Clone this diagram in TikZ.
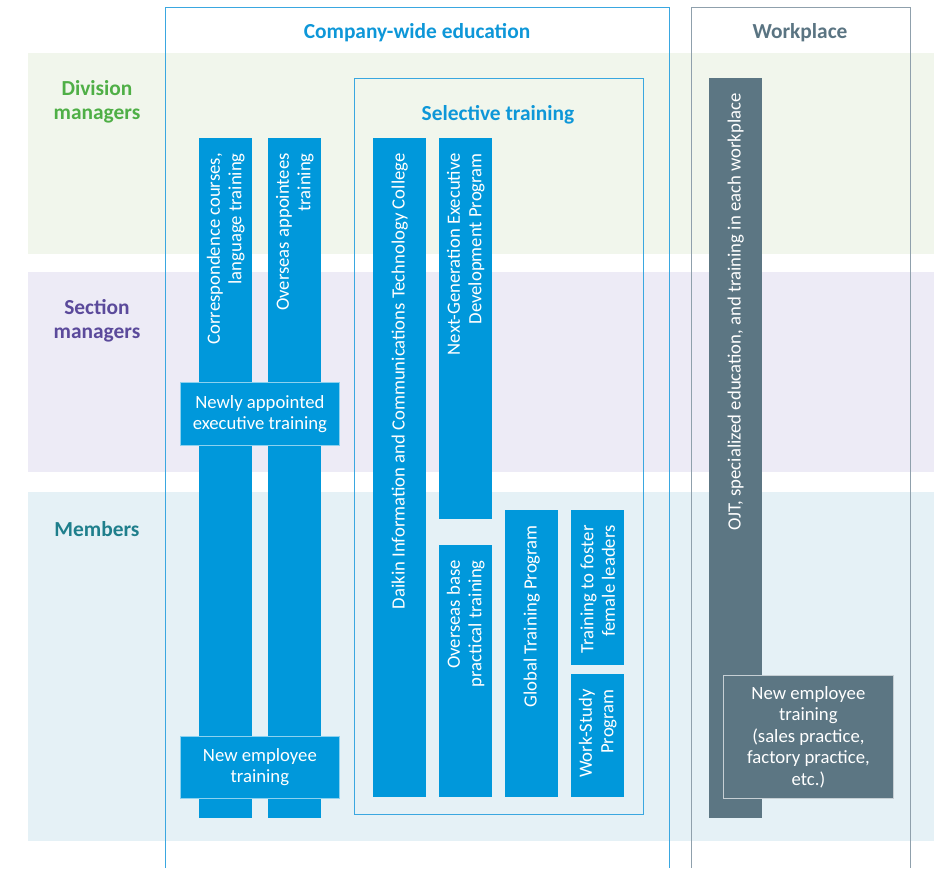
\documentclass[tikz,border=0pt]{standalone}
\usepackage{fontspec}
\setmainfont{Carlito}
\definecolor{barblue}{HTML}{0098DB}
\definecolor{cwframe}{HTML}{3AA7E0}
\definecolor{titleblue}{HTML}{0E97D8}
\definecolor{ojtgray}{HTML}{5C7683}
\definecolor{wpframe}{HTML}{8FA0AC}
\definecolor{wptitle}{HTML}{5A7482}
\definecolor{divgreen}{HTML}{4FAF46}
\definecolor{secpurple}{HTML}{5B4A9B}
\definecolor{memteal}{HTML}{1F7F8C}
\definecolor{bandgreen}{HTML}{F1F6EC}
\definecolor{bandpurple}{HTML}{EDEBF6}
\definecolor{bandblue}{HTML}{E5F1F6}
\tikzset{
  bar/.style={fill=#1, inner sep=0pt, anchor=north west, minimum width=53pt},
  bar/.default=barblue,
  vtext/.style={text=white, rotate=90, anchor=east, align=right, inner sep=0pt,
    font=\fontsize{18.7}{21.5}\selectfont},
  hbox/.style={fill=barblue, draw=white!55!barblue, line width=0.8pt, text=white,
    align=center, anchor=north west, inner sep=0pt, font=\fontsize{18.7}{21}\selectfont},
  title/.style={font=\bfseries\fontsize{21.4}{24}\selectfont, align=center},
}
\begin{document}
\begin{tikzpicture}[x=1pt,y=-1pt]
\useasboundingbox (0,0) rectangle (934,868);
% ---- level bands ----
\fill[bandgreen]  (28,53)  rectangle (934,254);
\fill[bandpurple] (28,272) rectangle (934,472);
\fill[bandblue]   (28,492) rectangle (934,841);
\node[title, text=divgreen]   (div) at (97,102) {Division\\managers};
\node[title, text=secpurple]  (sec) at (97,321) {Section\\managers};
\node[title, text=memteal]    (mem) at (97,529) {Members};
% ---- frames ----
\draw[cwframe, line width=0.8pt] (165,868) -- (165,7) -- (669,7) -- (669,868);
\draw[wpframe, line width=0.8pt] (691,868) -- (691,7) -- (910,7) -- (910,868);
\draw[cwframe, line width=0.8pt] (354,78) rectangle (643,814);
\node[title, text=titleblue] (cwtitle)  at (417,33)  {Company-wide education};
\node[title, text=wptitle]   (wptitle)  at (800,33)  {Workplace};
\node[title, text=titleblue] (seltitle) at (498,115) {Selective training};
% ---- company-wide bars ----
\node[bar, minimum height=680pt] (corr) at (199,138) {};
\node[vtext] at ([yshift=-15pt]corr.north) {Correspondence courses,\\language training};
\node[bar, minimum height=680pt] (ovapp) at (268,138) {};
\node[vtext] at ([yshift=-15pt]ovapp.north) {Overseas appointees\\training};
\node[hbox, minimum width=159pt, minimum height=63pt] (newexec) at (180,382)
  {Newly appointed\\executive training};
\node[hbox, minimum width=159pt, minimum height=62pt] (newemp) at (180,736)
  {New employee\\training};
% ---- selective training bars ----
\node[bar, minimum height=659pt] (college) at (373,138) {};
\node[vtext] at ([yshift=-15pt]college.north) {Daikin Information and Communications Technology College};
\node[bar, minimum height=381pt] (nextgen) at (439,138) {};
\node[vtext] at ([yshift=-15pt]nextgen.north) {Next-Generation Executive\\Development Program};
\node[bar, minimum height=252pt] (ovbase) at (439,545) {};
\node[vtext] at ([yshift=-15pt]ovbase.north) {Overseas base\\practical training};
\node[bar, minimum height=287pt] (global) at (505,510) {};
\node[vtext] at ([yshift=-15pt]global.north) {Global Training Program};
\node[bar, minimum height=155pt] (female) at (571,510) {};
\node[vtext] at ([yshift=-15pt]female.north) {Training to foster\\female leaders};
\node[bar, minimum height=123pt] (workstudy) at (571,674) {};
\node[vtext] at ([yshift=-15pt]workstudy.north) {Work-Study\\Program};
% ---- workplace ----
\node[bar=ojtgray, minimum height=740pt] (ojt) at (709,78) {};
\node[vtext] at ([yshift=-15pt]ojt.north) {OJT, specialized education, and training in each workplace};
\node[hbox, fill=ojtgray, draw=white!65!ojtgray, minimum width=170pt, minimum height=123pt,
  font=\fontsize{18.7}{21.5}\selectfont] (wpnew) at (723,675)
  {New employee\\training\\(sales practice,\\factory practice,\\etc.)};
\end{tikzpicture}
\end{document}
